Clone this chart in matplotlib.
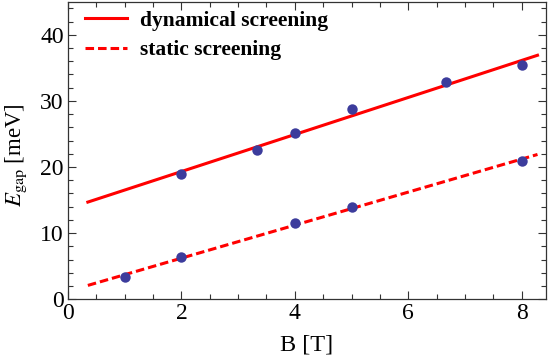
import matplotlib
matplotlib.use("Agg")
import matplotlib.pyplot as plt
from matplotlib.ticker import MultipleLocator

plt.rcParams['font.family'] = ['Liberation Serif', 'DejaVu Serif']
plt.rcParams['mathtext.fontset'] = 'stix'

# data
dyn_B = [2.0, 3.33, 4.0, 5.0, 6.67, 8.0]
dyn_E = [19.0, 22.6, 25.2, 28.8, 32.8, 35.5]
stat_B = [1.0, 2.0, 4.0, 5.0, 8.0]
stat_E = [3.4, 6.4, 11.6, 14.0, 20.95]
# fitted lines (end points)
fit_B = [0.35, 8.28]
fit_dyn = [14.7, 36.9]
fit_stat = [2.1, 21.9]

W, H = 550, 364
fig = plt.figure(figsize=(W/100, H/100), dpi=100)
L, R, T, B = 68, 546, 1.7, 299.3
ax = fig.add_axes([L/W, 1 - B/H, (R - L)/W, (B - T)/H])

red = '#ff0000'
ax.plot(fit_B, fit_dyn, color=red, lw=2.2, label='dynamical screening')
ax.plot(fit_B, fit_stat, color=red, lw=2.2, ls=(0, (2.8, 1.3)), label='static screening')
ax.plot(dyn_B, dyn_E, 'o', color='#3c3c9c', ms=7.5, mec='none', zorder=3)
ax.plot(stat_B, stat_E, 'o', color='#3c3c9c', ms=7.5, mec='none', zorder=3)

ax.set_xlim(0, 8.43)
ax.set_ylim(0, 45.0)
ax.xaxis.set_major_locator(MultipleLocator(2))
ax.xaxis.set_minor_locator(MultipleLocator(0.5))
ax.yaxis.set_major_locator(MultipleLocator(10))
ax.yaxis.set_minor_locator(MultipleLocator(2))
ax.tick_params(which='both', direction='in', top=True, right=True, color='#333333', width=0.8)
ax.tick_params(which='major', length=6, labelsize=17, pad=3)
ax.tick_params(which='minor', length=3.5)
for s in ax.spines.values():
    s.set_color('#333333')
    s.set_linewidth(0.9)

ax.set_xlabel('B [T]', fontsize=17.5, labelpad=7)
ax.set_ylabel(r'$E_{\rm gap}$ [meV]', fontsize=16.5)
ax.yaxis.set_label_coords(-(L - 29) / (R - L), 0.483)

leg = ax.legend(loc='upper left', frameon=False, prop={'weight': 'bold', 'size': 15.5},
                handlelength=1.95, handletextpad=0.6, borderaxespad=0, borderpad=0,
                labelspacing=0.44, bbox_to_anchor=(17/(R - L), 1 - 9/(B - T)))

fig.savefig('out.png', dpi=100)
